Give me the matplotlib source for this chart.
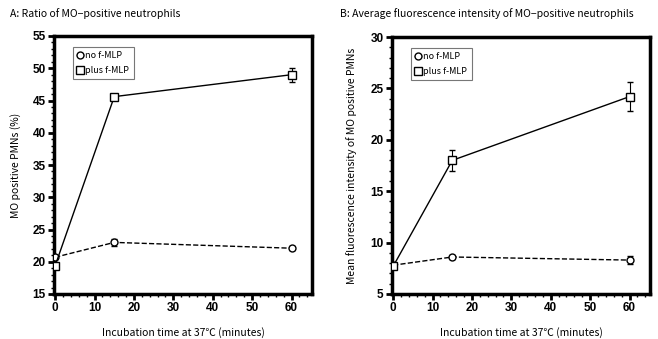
import matplotlib
matplotlib.use("Agg")
import matplotlib.pyplot as plt
from matplotlib.ticker import MultipleLocator

time = [0, 15, 60]
a_no = [20.7, 23.0, 22.1]
a_no_err = [0.3, 0.6, 0.3]
a_plus = [19.4, 45.6, 49.0]
a_plus_err = [0.3, 0.4, 1.1]
b_no = [7.8, 8.6, 8.3]
b_no_err = [0.2, 0.2, 0.4]
b_plus = [7.7, 18.0, 24.2]
b_plus_err = [0.2, 1.0, 1.4]

labels = ["no f-MLP", "plus f-MLP"]
text_font = ["Noto Sans CJK JP", "DejaVu Sans"]

fig = plt.figure(figsize=(6.58, 3.39), dpi=100)
axA = fig.add_axes([54/658, 45/339, 258/658, 258/339])
axB = fig.add_axes([392/658, 45/339, 258/658, 257/339])

def style(ax, ylim, ymaj):
    ax.set_xlim(-0.3, 65.2)
    ax.set_ylim(*ylim)
    ax.xaxis.set_major_locator(MultipleLocator(10))
    ax.xaxis.set_minor_locator(MultipleLocator(2))
    ax.yaxis.set_major_locator(MultipleLocator(ymaj))
    ax.yaxis.set_minor_locator(MultipleLocator(1))
    for s in ax.spines.values():
        s.set_linewidth(2.5)
    ax.tick_params(which="major", direction="out", length=4, width=2, pad=2)
    ax.tick_params(which="minor", direction="out", length=2.5, width=1)
    for lab in ax.get_xticklabels() + ax.get_yticklabels():
        lab.set_fontfamily("Liberation Sans")
        lab.set_fontweight("bold")
        lab.set_fontsize(8.5)

def draw(ax, no, no_err, plus, plus_err):
    ax.errorbar(time, no, yerr=no_err, color="black", ls="--", lw=1, marker="o",
                ms=5, mfc="white", mec="black", mew=1, capsize=2.5, elinewidth=0.8,
                label=labels[0], zorder=3)
    ax.errorbar(time, plus, yerr=plus_err, color="black", ls="-", lw=1, marker="s",
                ms=6, mfc="white", mec="black", mew=1, capsize=2.5, elinewidth=0.8,
                label=labels[1], zorder=3)
    handles = [plt.Line2D([], [], color="black", lw=1, marker="o", ms=5, mfc="white"),
               plt.Line2D([], [], color="black", lw=1, marker="s", ms=5.5, mfc="white")]
    leg = ax.legend(handles, labels, loc="upper left", bbox_to_anchor=(0.055, 0.975),
                    frameon=True, fancybox=False, edgecolor="#555555", handlelength=0.6,
                    handletextpad=0.3, borderpad=0.5, labelspacing=0.6,
                    prop={"family": text_font, "size": 6.5})
    leg.get_frame().set_linewidth(0.8)

draw(axA, a_no, a_no_err, a_plus, a_plus_err)
draw(axB, b_no, b_no_err, b_plus, b_plus_err)
style(axA, (15, 55), 5)
style(axB, (5, 30), 5)

axA.set_ylabel("MO positive PMNs (%)", family=text_font, fontsize=7.5, labelpad=8)
axB.set_ylabel("Mean fluorescence intensity of MO positive PMNs", family=text_font, fontsize=7.5, labelpad=10)
axA.set_xlabel("Incubation time at 37℃ (minutes)", family=text_font, fontsize=7.5, labelpad=9)
axB.set_xlabel("Incubation time at 37℃ (minutes)", family=text_font, fontsize=7.5, labelpad=9)

fig.text(10/658, 1 - 14/339, "A: Ratio of MO\u2212positive neutrophils", family=text_font,
         fontsize=7.5, va="center", ha="left")
fig.text(340/658, 1 - 14/339, "B: Average fluorescence intensity of MO\u2212positive neutrophils",
         family=text_font, fontsize=7.5, va="center", ha="left")

fig.savefig("out.png", dpi=100)
